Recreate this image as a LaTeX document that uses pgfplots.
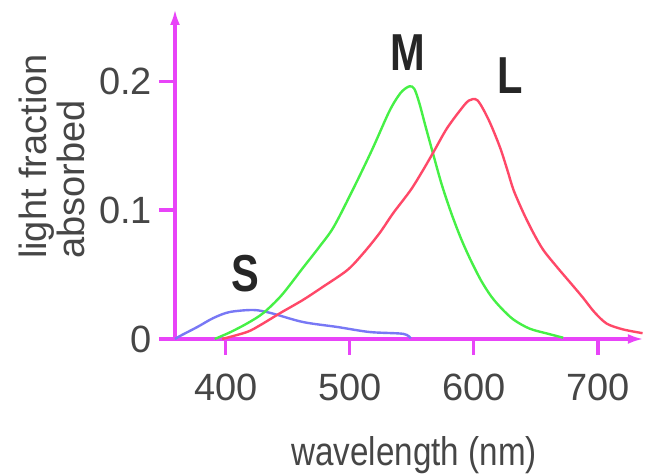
\documentclass[border=0pt]{standalone}
\usepackage{fontspec}
\setmainfont{Liberation Sans}
\usepackage{graphicx}
\usepackage{pgfplots}
\pgfplotsset{compat=1.18}
\usetikzlibrary{arrows.meta}
\definecolor{axmag}{RGB}{232,68,248}
\definecolor{cgreen}{RGB}{70,240,70}
\definecolor{cred}{RGB}{255,72,104}
\definecolor{cblue}{RGB}{120,120,245}
\definecolor{txt}{RGB}{70,70,70}

\begin{document}
\begin{tikzpicture}
\useasboundingbox (-87.5pt,-67.5pt) rectangle (235.5pt,169.5pt);
\begin{axis}[
    at={(0,0)}, anchor=south west,
    scale only axis,
    width=234.4pt, height=165pt,
    xmin=359, xmax=737,
    ymin=0, ymax=0.256,
    axis lines=left,
    axis line style={axmag, line width=2pt, -{Latex[length=8pt,width=5pt]}},
    xtick={400,500,600,700},
    ytick={0,0.1,0.2},
    tick align=outside,
    major tick length=8pt,
    tick style={axmag, line width=1.6pt},
    /pgf/number format/assume math mode=true,
    ticklabel style={font=\fontsize{19}{19}\selectfont, text=txt},
    xticklabel style={yshift=-6pt},
    xlabel={\scalebox{0.83}[1]{wavelength (nm)}},
    xlabel style={font=\fontsize{20}{20}\selectfont, text=txt,
        at={(axis description cs:0.51,0)}, anchor=center, yshift=-58pt},
    ylabel={light fraction\\absorbed},
    ylabel style={font=\fontsize{19}{16.5}\selectfont, text=txt, align=left,
        at={(axis description cs:-0.2624,0.553)}, anchor=center},
    clip=false,
]

% S cone
\addplot[cblue, line width=1.2pt, smooth] coordinates {
    (359,0) (363,0.0023) (377,0.0093) (390,0.0163) (403,0.0209)
    (422,0.0225) (436,0.0202) (462,0.0132) (490,0.0093)
    (516,0.0054) (543,0.0040) (549,0.0005)
};

% M cone
\addplot[cgreen, line width=1.2pt, smooth] coordinates {
    (391,0) (403,0.005) (417,0.012) (430,0.020) (445,0.034)
    (462,0.055) (475,0.071) (487,0.087) (503,0.117) (518,0.147)
    (532,0.177) (541,0.191) (548,0.196) (552,0.194) (556,0.183)
    (561,0.165) (567,0.144) (574,0.120) (582,0.097) (590,0.077)
    (598,0.060) (606,0.045) (614,0.033) (622,0.024) (632,0.015)
    (645,0.008) (660,0.004) (672,0.001)
};

% L cone
\addplot[cred, line width=1.2pt, smooth] coordinates {
    (397,0) (417,0.0054) (428,0.0109) (444,0.0202) (462,0.0302)
    (478,0.0403) (498,0.0535) (511,0.0667) (524,0.0822) (535,0.0977)
    (549,0.1155) (559,0.1310) (568,0.1460) (578,0.1630) (589,0.1775)
    (596,0.1850) (603,0.1850) (612,0.1698) (621,0.1488) (627,0.1310)
    (632,0.1155) (640,0.0977) (648,0.0822) (656,0.0690) (667,0.0558)
    (678,0.0434) (688,0.0320) (697,0.0210) (707,0.0120) (720,0.0075)
    (736,0.0045)
};

\node[font=\fontsize{26}{26}\selectfont\bfseries, text=black!85] at (axis cs:547,0.2225) {\scalebox{0.8}[1]{M}};
\node[font=\fontsize{26}{26}\selectfont\bfseries, text=black!85] at (axis cs:629,0.204) {\scalebox{0.8}[1]{L}};
\node[font=\fontsize{26}{26}\selectfont\bfseries, text=black!85] at (axis cs:415.6,0.0504) {\scalebox{0.8}[1]{S}};
\end{axis}
\end{tikzpicture}
\end{document}
